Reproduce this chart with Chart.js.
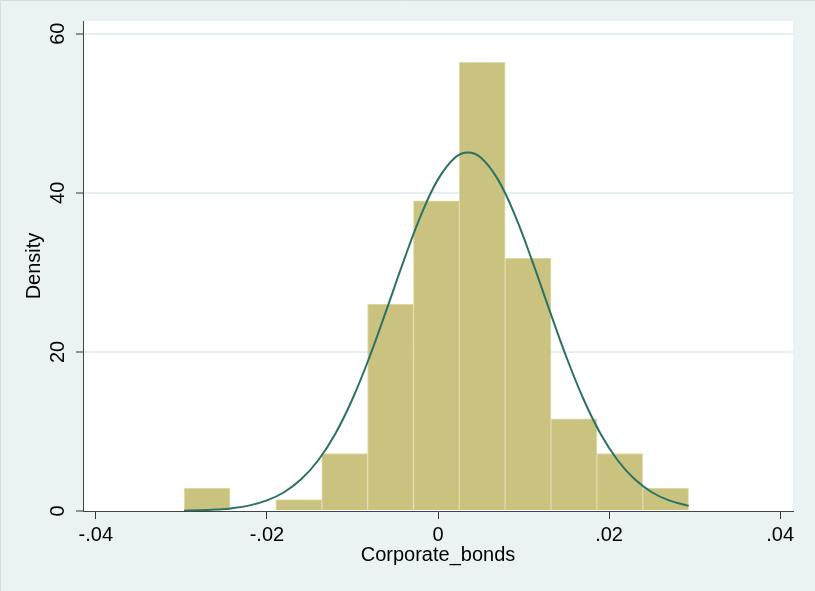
<!DOCTYPE html>
<html>
<head>
<meta charset="utf-8">
<script src="https://cdn.jsdelivr.net/npm/chart.js@4"></script>
<style>
  html, body { margin: 0; padding: 0; background: #EAF2F3; }
  #wrap { width: 815px; height: 591px; }
</style>
</head>
<body>
<div id="wrap"><canvas id="c" width="815" height="591"></canvas></div>
<script>
// Histogram bins of Corporate_bonds (bin centres) and their densities
const binCenters = [-0.02699, -0.02163, -0.01627, -0.01091, -0.00555, -0.00019, 0.00517, 0.01053, 0.01589, 0.02125, 0.02661];
const binDensity = [2.89, 0, 1.45, 7.23, 26.0, 39.0, 56.4, 31.8, 11.6, 7.23, 2.89];

// Normal density curve overlaid on the histogram
const curveX = [-0.0297, -0.028, -0.026, -0.024, -0.022, -0.020, -0.018, -0.016, -0.014, -0.012, -0.010, -0.008, -0.006, -0.004, -0.002, 0, 0.002, 0.0035, 0.005, 0.007, 0.009, 0.011, 0.013, 0.015, 0.017, 0.019, 0.021, 0.023, 0.025, 0.027, 0.0293];
const curveY = [0.04, 0.08, 0.18, 0.36, 0.71, 1.33, 2.36, 3.98, 6.38, 9.72, 14.08, 19.38, 25.34, 31.48, 37.16, 41.69, 44.44, 45.08, 44.44, 41.69, 37.16, 31.48, 25.34, 19.38, 14.08, 9.72, 6.38, 3.98, 2.36, 1.33, 0.64];

// Axis ticks
const xTicks = [-0.04, -0.02, 0, 0.02, 0.04];
const yTicks = [0, 20, 40, 60];

const fmtX = v => {
  if (Math.abs(v) < 1e-9) return '0';
  const s = v.toFixed(2);
  return s.replace('0.', '.');
};

const backdrop = {
  id: 'backdrop',
  beforeDraw(chart) {
    const { ctx, chartArea: a, width, height } = chart;
    ctx.save();
    ctx.fillStyle = '#EAF2F3';
    ctx.fillRect(0, 0, width, height);
    // thin frame along the top and left edges
    ctx.strokeStyle = '#D6DCDE';
    ctx.lineWidth = 1;
    ctx.beginPath();
    ctx.moveTo(0.5, height);
    ctx.lineTo(0.5, 0.5);
    ctx.lineTo(width, 0.5);
    ctx.stroke();
    ctx.fillStyle = '#FFFFFF';
    ctx.fillRect(a.left, a.top, a.right - a.left, a.bottom - a.top);
    ctx.restore();
  }
};

const font = { family: '"Liberation Sans", Arial, sans-serif', size: 20, lineHeight: 1.2 };

new Chart(document.getElementById('c'), {
  type: 'bar',
  data: {
    datasets: [
      {
        type: 'line',
        order: 0,
        data: curveX.map((x, i) => ({ x, y: curveY[i] })),
        borderColor: '#2C7166',
        borderWidth: 2,
        pointRadius: 0,
        tension: 0.4,
        fill: false
      },
      {
        type: 'bar',
        order: 1,
        data: binCenters.map((x, i) => ({ x, y: binDensity[i] })),
        backgroundColor: '#CAC37F',
        borderColor: '#E0DBAC',
        borderWidth: 1,
        borderSkipped: 'bottom',
        barPercentage: 1,
        categoryPercentage: 1
      }
    ]
  },
  options: {
    responsive: false,
    animation: false,
    layout: { padding: { left: 0, right: 22, top: 21, bottom: 0 } },
    plugins: { legend: { display: false }, tooltip: { enabled: false } },
    scales: {
      x: {
        type: 'linear',
        offset: false,
        min: -0.0415,
        max: 0.0415,
        afterBuildTicks: s => { s.ticks = xTicks.map(v => ({ value: v })); },
        afterFit: s => { s.height = 80; },
        grid: { offset: false, drawOnChartArea: false, drawTicks: true, tickLength: 8, tickColor: '#333333', tickWidth: 1 },
        border: { color: '#444444', width: 1 },
        ticks: { color: '#000000', font, padding: 4, maxRotation: 0, callback: v => fmtX(v) },
        title: { display: true, text: 'Corporate_bonds', color: '#000000', font, padding: { top: 0, bottom: 24 } }
      },
      y: {
        type: 'linear',
        min: 0,
        max: 61.6,
        afterBuildTicks: s => { s.ticks = yTicks.map(v => ({ value: v })); },
        afterFit: s => { s.width = 83; },
        grid: {
          color: c => (c.tick && c.tick.value === 0 ? 'rgba(0,0,0,0)' : '#E6EFF1'),
          lineWidth: 2,
          tickLength: 7,
          tickColor: '#333333',
          tickWidth: 1
        },
        border: { color: '#444444', width: 1 },
        ticks: { color: '#000000', font, padding: 6, minRotation: 90, maxRotation: 90, crossAlign: 'center' },
        title: { display: true, text: 'Density', color: '#000000', font, padding: { top: 22, bottom: 0 } }
      }
    }
  },
  plugins: [backdrop]
});
</script>
</body>
</html>
